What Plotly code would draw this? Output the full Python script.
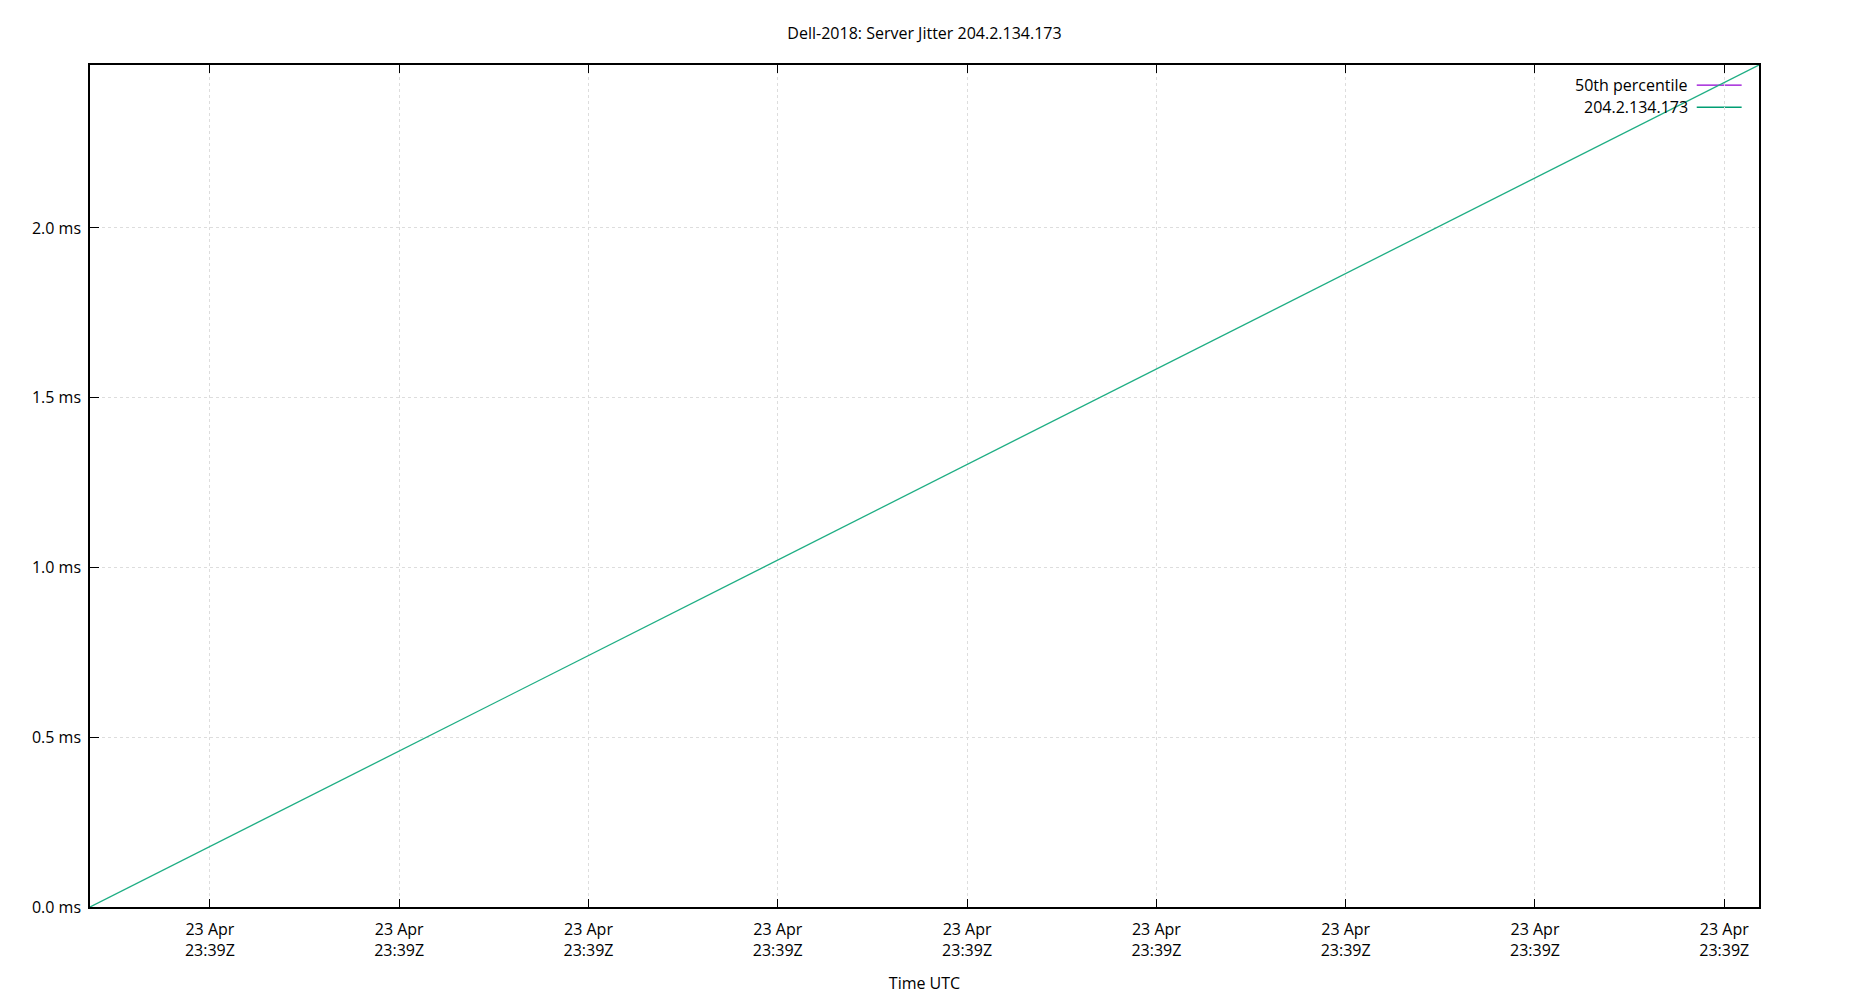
import plotly.graph_objects as go

# sample times (UTC) and jitter in ms
times = ["2023-04-23 23:39:02.2", "2023-04-23 23:39:55.1"]
jitter_ms = [0.0, 2.48]

tick_times = [
    "2023-04-23 23:39:06",
    "2023-04-23 23:39:12",
    "2023-04-23 23:39:18",
    "2023-04-23 23:39:24",
    "2023-04-23 23:39:30",
    "2023-04-23 23:39:36",
    "2023-04-23 23:39:42",
    "2023-04-23 23:39:48",
    "2023-04-23 23:39:54",
]
tick_labels = ["23 Apr<br>23:39Z"] * len(tick_times)
y_ticks = [0.0, 0.5, 1.0, 1.5, 2.0]
y_labels = ["0.0 ms", "0.5 ms", "1.0 ms", "1.5 ms", "2.0 ms"]

series_names = ["50th percentile", "204.2.134.173"]
series_colours = ["#9400d3", "#009e73"]

fig = go.Figure()
# the 50th percentile has nothing visible in the plot area, only its key entry
fig.add_trace(
    go.Scatter(x=times, y=jitter_ms, mode="lines", name=series_names[1],
               line=dict(color="#1fae84", width=1.3))
)

# gnuplot style key: text on the left, sample line on the right
key_y = [0.9762, 0.9498]
for name, colour, ky in zip(series_names, series_colours, key_y):
    fig.add_annotation(
        x=0.9587, y=ky, xref="paper", yref="paper", text=name,
        showarrow=False, xanchor="right", yanchor="middle",
        font=dict(size=16, color="#000000"),
    )
    fig.add_shape(
        type="line", xref="paper", yref="paper", layer="below",
        x0=0.9627, x1=0.9896, y0=ky, y1=ky,
        line=dict(color=colour, width=1.3),
    )

fig.update_layout(
    width=1850,
    height=1000,
    autosize=False,
    plot_bgcolor="white",
    paper_bgcolor="white",
    showlegend=False,
    font=dict(family="Open Sans", size=16, color="#000000"),
    margin=dict(l=82, r=99, t=57, b=101),
    title=dict(
        text="Dell-2018: Server Jitter 204.2.134.173",
        xref="paper", x=0.5, xanchor="center", y=0.975, yanchor="middle",
        font=dict(size=16),
    ),
)

fig.update_xaxes(
    type="date",
    range=[times[0], times[-1]],
    tickvals=tick_times,
    ticktext=tick_labels,
    ticks="inside",
    ticklen=8,
    tickcolor="black",
    mirror="ticks",
    showline=True,
    linecolor="black",
    linewidth=1.5,
    showgrid=True,
    gridcolor="#dddddd",
    griddash="dot",
    gridwidth=1,
    zeroline=False,
    ticklabelstandoff=7,
    title=dict(text="Time UTC", standoff=18, font=dict(size=16)),
)

fig.update_yaxes(
    range=[0, 2.48],
    tickvals=y_ticks,
    ticktext=y_labels,
    ticks="inside",
    ticklen=9,
    tickcolor="black",
    showline=True,
    linecolor="black",
    linewidth=1.5,
    mirror=True,
    showgrid=True,
    gridcolor="#dddddd",
    griddash="dot",
    gridwidth=1,
    zeroline=False,
    ticklabelstandoff=4,
)

fig.write_html("out.html")
